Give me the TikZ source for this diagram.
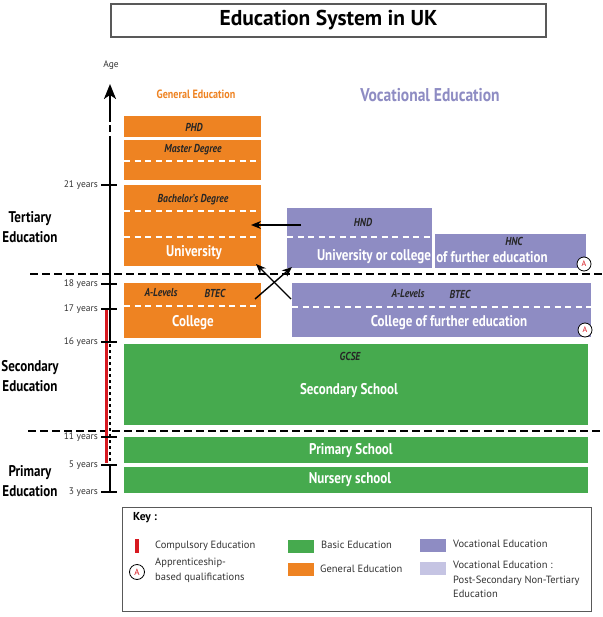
\documentclass[tikz,border=0pt]{standalone}
\usepackage{fontspec}
\setmainfont{PT Sans}
\newfontfamily\cnd[FakeStretch=0.84]{PT Sans}
\usetikzlibrary{arrows.meta}
\definecolor{orgc}{HTML}{EE8322}
\definecolor{purc}{HTML}{8E8CC3}
\definecolor{lpurc}{HTML}{C5C4E3}
\definecolor{grnc}{HTML}{46AA4E}
\definecolor{redc}{HTML}{D71920}
\definecolor{keyc}{HTML}{333333}
\newcommand\myfs[1]{\fontsize{#1}{#1}\selectfont}
\begin{document}
\begin{tikzpicture}[x=1pt,y=-1pt,
  blk/.style={inner sep=0pt, outer sep=0pt, draw=none},
  big/.style={text=white, font=\cnd\bfseries\myfs{15.5}},
  qual/.style={text=black!85, font=\cnd\bfseries\itshape\myfs{11.5}},
  wdash/.style={white, line width=1.6pt, dash pattern=on 6pt off 4.5pt},
  bdash/.style={black, line width=2.5pt, dash pattern=on 7.5pt off 4.5pt},
  agetxt/.style={anchor=east, font=\myfs{9.5}, text=keyc, inner sep=1pt},
  tick/.style={black, line width=2pt},
  lev/.style={align=center, font=\cnd\bfseries\fontsize{15.5}{20}\selectfont},
  conn/.style={-{Stealth[length=10pt,width=8pt]}, line width=1.4pt},
  anode/.style={circle, draw=black, fill=white, line width=0.8pt, minimum size=14pt, inner sep=0pt, text=redc, font=\myfs{8}},
  keyt/.style={anchor=west, text=keyc, font=\fontsize{10.5}{14.5}\selectfont, inner sep=0pt, align=left},
  sw/.style={inner sep=0pt, minimum width=26pt, minimum height=13pt}
]
\useasboundingbox (0,0) rectangle (602,617);

% title
\node[blk, draw=black!65, line width=1.2pt, minimum width=435pt, minimum height=33pt] (tbox) at (328.5,20.5) {};
\node[font=\bfseries\myfs{21.5}] (title) at (tbox.center) {Education System in UK};

% headers
\node[font=\myfs{9.5}, text=keyc] (age) at (111,65) {Age};
\node[font=\cnd\bfseries\myfs{12}, text=orgc] (genh) at (196,94) {General Education};
\node[font=\cnd\bfseries\myfs{18.5}, text=purc] (voch) at (430,95) {Vocational Education};

% orange boxes
\node[blk, fill=orgc, minimum width=137pt, minimum height=21pt] (phd) at (192.5,126.5) {};
\node[blk, fill=orgc, minimum width=137pt, minimum height=40pt] (mast) at (192.5,160) {};
\node[blk, fill=orgc, minimum width=137pt, minimum height=81pt] (bach) at (192.5,225.5) {};
\node[blk, fill=orgc, minimum width=137pt, minimum height=55pt] (coll) at (192.5,310.5) {};
\draw[wdash] (124,161) -- (261,161);
\draw[wdash] (124,211) -- (261,211);
\draw[wdash] (124,237) -- (261,237);
\draw[wdash] (124,306) -- (261,306);
\node[qual] (phdt) at (194,127) {PHD};
\node[qual] (mastt) at (193,150) {Master Degree};
\node[qual] (bacht) at (193,200) {Bachelor’s Degree};
\node[big] (univt) at (194,253) {University};
\node[qual] (alev1) at (161,293) {A-Levels};
\node[qual] (btec1) at (215,293) {BTEC};
\node[big] (collt) at (193,323) {College};

% purple boxes
\node[blk, fill=purc, minimum width=145pt, minimum height=60pt] (hnd) at (359.5,238) {};
\node[blk, fill=purc, minimum width=151pt, minimum height=34pt] (hnc) at (510.5,251) {};
\node[blk, fill=purc, minimum width=299pt, minimum height=54pt] (cfe) at (441.5,310) {};
\draw[wdash] (287,237) -- (432,237);
\draw[wdash] (292,307) -- (591,307);
\node[qual] (hndt) at (363,222) {HND};
\node[qual] (hnct) at (514,241) {HNC};
\node[big] (uoc) at (374,257) {University or college};
\node[big] (ofe) at (492,257) {of further education};
\node[qual] (alev2) at (408,294) {A-Levels};
\node[qual] (btec2) at (460,294) {BTEC};
\node[big] (cfet) at (449,323) {College of further education};
\node[anode] (ap1) at (584,264) {A};
\node[anode] (ap2) at (585,330) {A};

% green boxes
\node[blk, fill=grnc, minimum width=464pt, minimum height=81pt] (sec) at (356,384.5) {};
\node[blk, fill=grnc, minimum width=464pt, minimum height=26pt] (prim) at (356,450) {};
\node[blk, fill=grnc, minimum width=464pt, minimum height=26pt] (nurs) at (356,480) {};
\node[qual] (gcse) at (350,356) {GCSE};
\node[big] (sect) at (349,391) {Secondary School};
\node[big] (primt) at (351,451) {Primary School};
\node[big] (nurst) at (350,480) {Nursery school};

% level dividers
\draw[bdash] (30,274) -- (602,274);
\draw[bdash] (28,431) -- (602,431);

% levels
\node[lev] (tert) at (30,227) {Tertiary\\Education};
\node[lev] (secl) at (30,376.5) {Secondary\\Education};
\node[lev] (priml) at (30,481.5) {Primary\\Education};

% axis
\coordinate (axtop) at (110,84);
\coordinate (axa) at (110,122);
\draw[line width=2.2pt, -{Stealth[length=15pt,width=12pt,inset=4pt]}] (axa) -- (axtop);
\draw[line width=2.2pt] (110,125.5) -- (110,132);
\draw[line width=2.2pt] (110,136) -- (110,342);
\draw[line width=2.2pt, dash pattern=on 3pt off 3pt] (110,344) -- (110,465);
\draw[line width=2.2pt] (110,465) -- (110,492);
\draw[redc, line width=3pt] (106,309) -- (106,463);
\foreach \yy/\tt in {185/21 years,284/18 years,309/17 years,342/16 years,437/11 years,465/5 years,492/3 years}{
  \draw[tick] (101,\yy) -- (117,\yy);
  \node[agetxt] at (99,\yy) {\tt};
}

% connectors
\coordinate (h1) at (301,225);
\coordinate (h2) at (251,225);
\draw[conn] (h1) -- (h2);
\coordinate (c1s) at (255,299);
\coordinate (c1e) at (292,267);
\draw[conn] (c1s) -- (c1e);
\coordinate (c2s) at (291,299);
\coordinate (c2e) at (256,264);
\draw[conn] (c2s) -- (c2e);

% key
\node[blk, draw=black!65, line width=1pt, minimum width=469pt, minimum height=104pt] (kbox) at (356.5,559) {};
\node[anchor=west, inner sep=0pt, font=\bfseries\myfs{11.5}] (keyh) at (133,518) {Key :};
\node[inner sep=0pt, fill=redc, minimum width=3.5pt, minimum height=14pt] (kred) at (137,546) {};
\node[keyt] (kredt) at (155,546) {Compulsory Education};
\node[anode, minimum size=15pt, font=\myfs{9}] (kap) at (137,572) {A};
\node[keyt] (kapt) at (155,570.5) {Apprenticeship-\\based qualifications};
\node[sw, fill=grnc] (kg) at (301,546.5) {};
\node[keyt] (kgt) at (321,545) {Basic Education};
\node[sw, fill=orgc] (ko) at (301,569) {};
\node[keyt] (kot) at (320,569) {General Education};
\node[sw, fill=purc] (kp) at (432.5,545.5) {};
\node[keyt] (kpt) at (453,544) {Vocational Education};
\node[sw, fill=lpurc] (klp) at (432.5,568) {};
\node[keyt, anchor=north west] (klpt) at (453,561) {Vocational Education :\\Post-Secondary Non-Tertiary\\Education};
\end{tikzpicture}
\end{document}
